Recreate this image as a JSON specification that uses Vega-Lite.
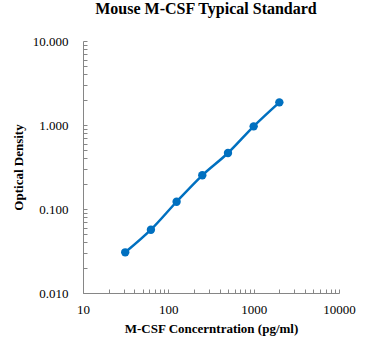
{
  "$schema": "https://vega.github.io/schema/vega-lite/v6.json",
  "width": 256,
  "height": 252,
  "autosize": {"type": "none"},
  "padding": {"left": 83, "top": 41, "right": 31, "bottom": 57},
  "background": "white",
  "title": {
    "text": "Mouse M-CSF Typical Standard",
    "font": "Liberation Serif",
    "fontSize": 16,
    "fontWeight": "bold",
    "color": "black",
    "anchor": "middle",
    "offset": 18,
    "dx": -5
  },
  "data": {
    "values": [
      {"conc": 31.25, "od": 0.0305},
      {"conc": 62.5, "od": 0.0567},
      {"conc": 125, "od": 0.122},
      {"conc": 250, "od": 0.252},
      {"conc": 500, "od": 0.464},
      {"conc": 1000, "od": 0.964},
      {"conc": 2000, "od": 1.86}
    ]
  },
  "config": {
    "view": {"stroke": null},
    "axis": {
      "grid": false,
      "domainColor": "#868686",
      "tickColor": "#868686",
      "tickSize": -4,
      "labelFont": "Liberation Serif",
      "labelFontSize": 13,
      "labelColor": "black",
      "titleFont": "Liberation Serif",
      "titleFontSize": 13,
      "titleFontWeight": "bold",
      "titleColor": "black",
      "labelOverlap": false,
      "labelFlush": false
    }
  },
  "encoding": {
    "x": {
      "field": "conc",
      "type": "quantitative",
      "scale": {"type": "log", "domain": [10, 10000], "nice": false},
      "axis": {
        "title": "M-CSF Concerntration (pg/ml)",
        "values": [10,20,30,40,50,60,70,80,90,100,200,300,400,500,600,700,800,900,1000,2000,3000,4000,5000,6000,7000,8000,9000,10000],
        "labelExpr": "indexof([10,100,1000,10000], datum.value) >= 0 ? format(datum.value, 'd') : ''",
        "labelPadding": 14,
        "titlePadding": 6
      }
    },
    "y": {
      "field": "od",
      "type": "quantitative",
      "scale": {"type": "log", "domain": [0.01, 10], "nice": false},
      "axis": {
        "title": "Optical Density",
        "values": [0.01,0.02,0.03,0.04,0.05,0.06,0.07,0.08,0.09,0.1,0.2,0.3,0.4,0.5,0.6,0.7,0.8,0.9,1,2,3,4,5,6,7,8,9,10],
        "labelExpr": "indexof([0.01,0.1,1,10], datum.value) >= 0 ? format(datum.value, '.3f') : ''",
        "labelPadding": 19,
        "titlePadding": 7
      }
    }
  },
  "layer": [
    {
      "mark": {"type": "line", "color": "#0070C0", "strokeWidth": 2.5, "interpolate": "monotone"}
    },
    {
      "mark": {"type": "point", "filled": true, "color": "#0070C0", "size": 70, "opacity": 1}
    }
  ]
}
